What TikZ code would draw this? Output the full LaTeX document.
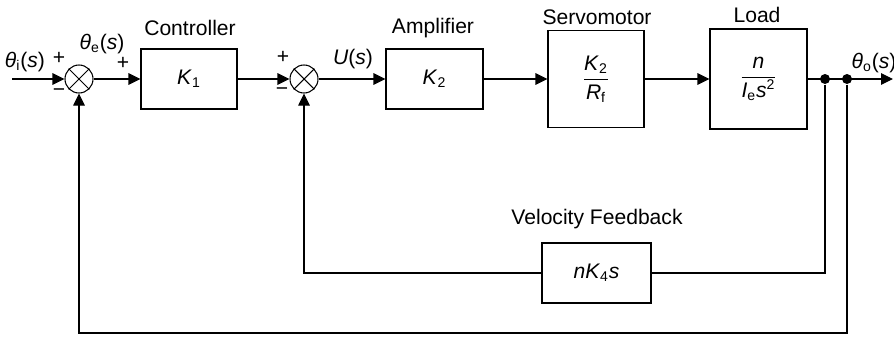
\documentclass[tikz,border=0pt]{standalone}
\usepackage{fontspec}
\setmainfont{Liberation Sans}
\usetikzlibrary{arrows.meta}

\begin{document}
\begin{tikzpicture}[
        font=\fontsize{12}{14}\selectfont,
        line width=0.6pt,
        >={Triangle[length=2.4mm, width=2.3mm]},
        block/.style={draw, minimum width=1.92cm, minimum height=1.2cm, inner sep=0pt},
        sum/.style={draw, circle, minimum size=5.6mm, inner sep=0pt},
        dot/.style={fill, circle, minimum size=2mm, inner sep=0pt}]
        \useasboundingbox (0,0) rectangle (17.88,6.72);

        % bloky
        \node[sum] (sum1) at (1.58,5.14) {};
        \node[block] (ctrl) at (3.78,5.14) {\textit{K}\textsubscript{1}};
        \node[sum] (sum2) at (6.08,5.14) {};
        \node[block, minimum width=1.94cm] (amp) at (8.69,5.14) {\textit{K}\textsubscript{2}};
        \node[block, minimum height=1.94cm] (servo) at (11.92,5.14)
            {$\displaystyle\frac{\mbox{\textit{K}\textsubscript{2}}}{\mbox{\textit{R}\textsubscript{f}}}$};
        \node[block, minimum width=1.94cm, minimum height=2cm] (load) at (15.17,5.14)
            {$\displaystyle\frac{\mbox{\textit{n}}}{\mbox{\textit{I}\textsubscript{e}\textit{s}\textsuperscript{2}}}$};
        \node[block, minimum width=2.18cm] (vel) at (11.93,1.26) {\textit{nK}\textsubscript{4}\textit{s}};

        % krizky ve scitackach
        \draw (sum1.45) -- (sum1.225) (sum1.135) -- (sum1.-45);
        \draw (sum2.45) -- (sum2.225) (sum2.135) -- (sum2.-45);

        % body
        \coordinate (in) at (0.24,5.14);
        \coordinate (out) at (17.86,5.14);
        \coordinate (bot) at (0,0.06);
        \node[dot] (d1) at (16.5,5.14) {};
        \node[dot] (d2) at (16.94,5.14) {};

        % hlavni vetev
        \draw[->] (in) -- (sum1);
        \draw[->] (sum1) -- (ctrl);
        \draw[->] (ctrl) -- (sum2);
        \draw[->] (sum2) -- (amp);
        \draw[->] (amp) -- (servo);
        \draw[->] (servo) -- (load);
        \draw[->] (load) -- (out);

        % zpetne vazby
        \draw (d1) |- (vel.east);
        \draw[->] (vel.west) -| (sum2.south);
        \draw[->] (d2) |- (bot -| sum1) -- (sum1.south);

        % popisky
        \node (lctrl) at (3.8,6.16) {Controller};
        \node (lamp) at (8.66,6.16) {Amplifier};
        \node (lservo) at (11.94,6.38) {Servomotor};
        \node (lload) at (15.14,6.42) {Load};
        \node (lvel) at (11.94,2.34) {Velocity Feedback};
        \node (thi) at (0.5,5.48) {\textit{θ}\textsubscript{i}(\textit{s})};
        \node (the) at (2.04,5.84) {\textit{θ}\textsubscript{e}(\textit{s})};
        \node (us) at (7.06,5.54) {\textit{U}(\textit{s})};
        \node (tho) at (17.48,5.46) {\textit{θ}\textsubscript{o}(\textit{s})};
        \node (p1) at (1.18,5.56) {+};
        \node (m1) at (1.18,4.86) {−};
        \node (p2) at (2.46,5.46) {+};
        \node (p3) at (5.66,5.58) {+};
        \node (m3) at (5.64,4.88) {−};
    \end{tikzpicture}
\end{document}
